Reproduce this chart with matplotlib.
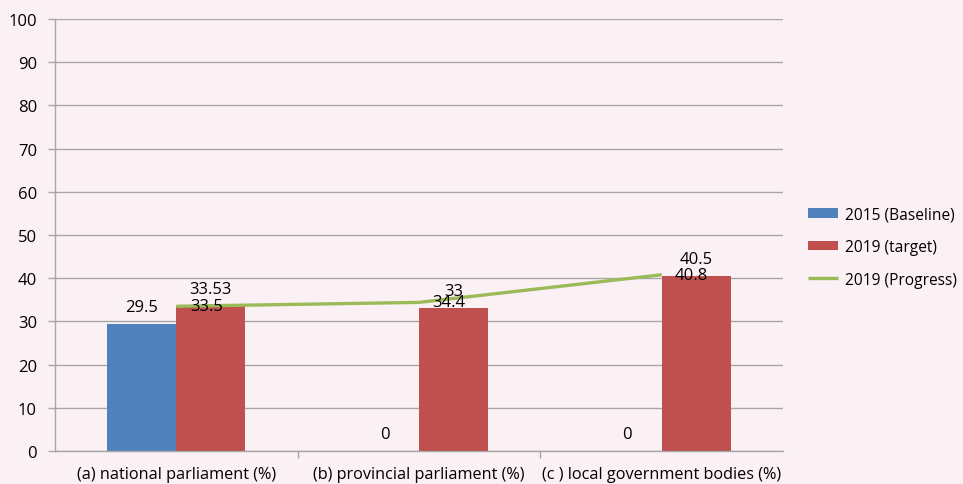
import matplotlib
matplotlib.use("Agg")
import matplotlib.pyplot as plt
import numpy as np

categories = ["(a) national parliament (%)", "(b) provincial parliament (%)", "(c ) local government bodies (%)"]
baseline_2015 = [29.5, 0, 0]
target_2019 = [33.53, 33, 40.5]
progress_2019 = [33.5, 34.4, 40.8]
yticks = list(range(0, 101, 10))

bg = "#FBF1F5"
blue = "#4F81BD"
red = "#C0504D"
green = "#9BBB59"
grid_c = "#A6A6A6"

plt.rcParams['font.family'] = ['Open Sans', 'DejaVu Sans']

fig = plt.figure(figsize=(9.63, 4.85), dpi=100, facecolor=bg)
ax = fig.add_axes([55/963, 33/485, 728/963, 432/485])
ax.set_facecolor(bg)

x = np.arange(len(categories))
w = 0.284
off = 0.142
b1 = ax.bar(x - off, baseline_2015, w, color=blue, label="2015 (Baseline)", zorder=2)
b2 = ax.bar(x + off, target_2019, w, color=red, label="2019 (target)", zorder=2)
ln, = ax.plot(x, progress_2019, color=green, lw=2.4, label="2019 (Progress)", zorder=3,
              solid_capstyle="butt")

fs = 12
for xi, v in zip(x - off, baseline_2015):
    ax.annotate(f"{v:g}", (xi, v), xytext=(0, 17), textcoords="offset pixels",
                ha="center", va="center", fontsize=fs, zorder=4)
for xi, v in zip(x + off, target_2019):
    ax.annotate(f"{v:g}", (xi, v), xytext=(0, 17), textcoords="offset pixels",
                ha="center", va="center", fontsize=fs, zorder=4)
for xi, v in zip(x, progress_2019):
    ax.annotate(f"{v:g}", (xi, v), xytext=(30, 0), textcoords="offset pixels",
                ha="center", va="center", fontsize=fs, zorder=4)

ax.set_xlim(-0.5, 2.5)
ax.set_ylim(0, 100)
ax.set_yticks(yticks)
ax.set_yticklabels([str(t) for t in yticks], fontsize=12)
ax.yaxis.grid(True, color=grid_c, lw=1.0, zorder=0)
ax.set_axisbelow(True)

ax.set_xticks(x)
ax.set_xticklabels(categories, fontsize=11.7)
ax.tick_params(axis="x", length=0, pad=11)
ax.set_xticks([0.5, 1.5], minor=True)
ax.tick_params(axis="x", which="minor", length=5, color=grid_c, width=1)
ax.tick_params(axis="y", length=5, color=grid_c, width=1, pad=8)

for s in ["top", "right"]:
    ax.spines[s].set_visible(False)
for s in ["left", "bottom"]:
    ax.spines[s].set_color(grid_c)
    ax.spines[s].set_linewidth(1.0)

leg = fig.legend(handles=[b1, b2, ln], loc="center left",
                 bbox_to_anchor=(799/963, 1 - 248/485), frameon=False,
                 fontsize=11.2, handlelength=1.9, handleheight=0.6,
                 labelspacing=1.07, handletextpad=0.45, borderpad=0.3,
                 borderaxespad=0.3)

fig.savefig("out.png", dpi=100, facecolor=bg)
